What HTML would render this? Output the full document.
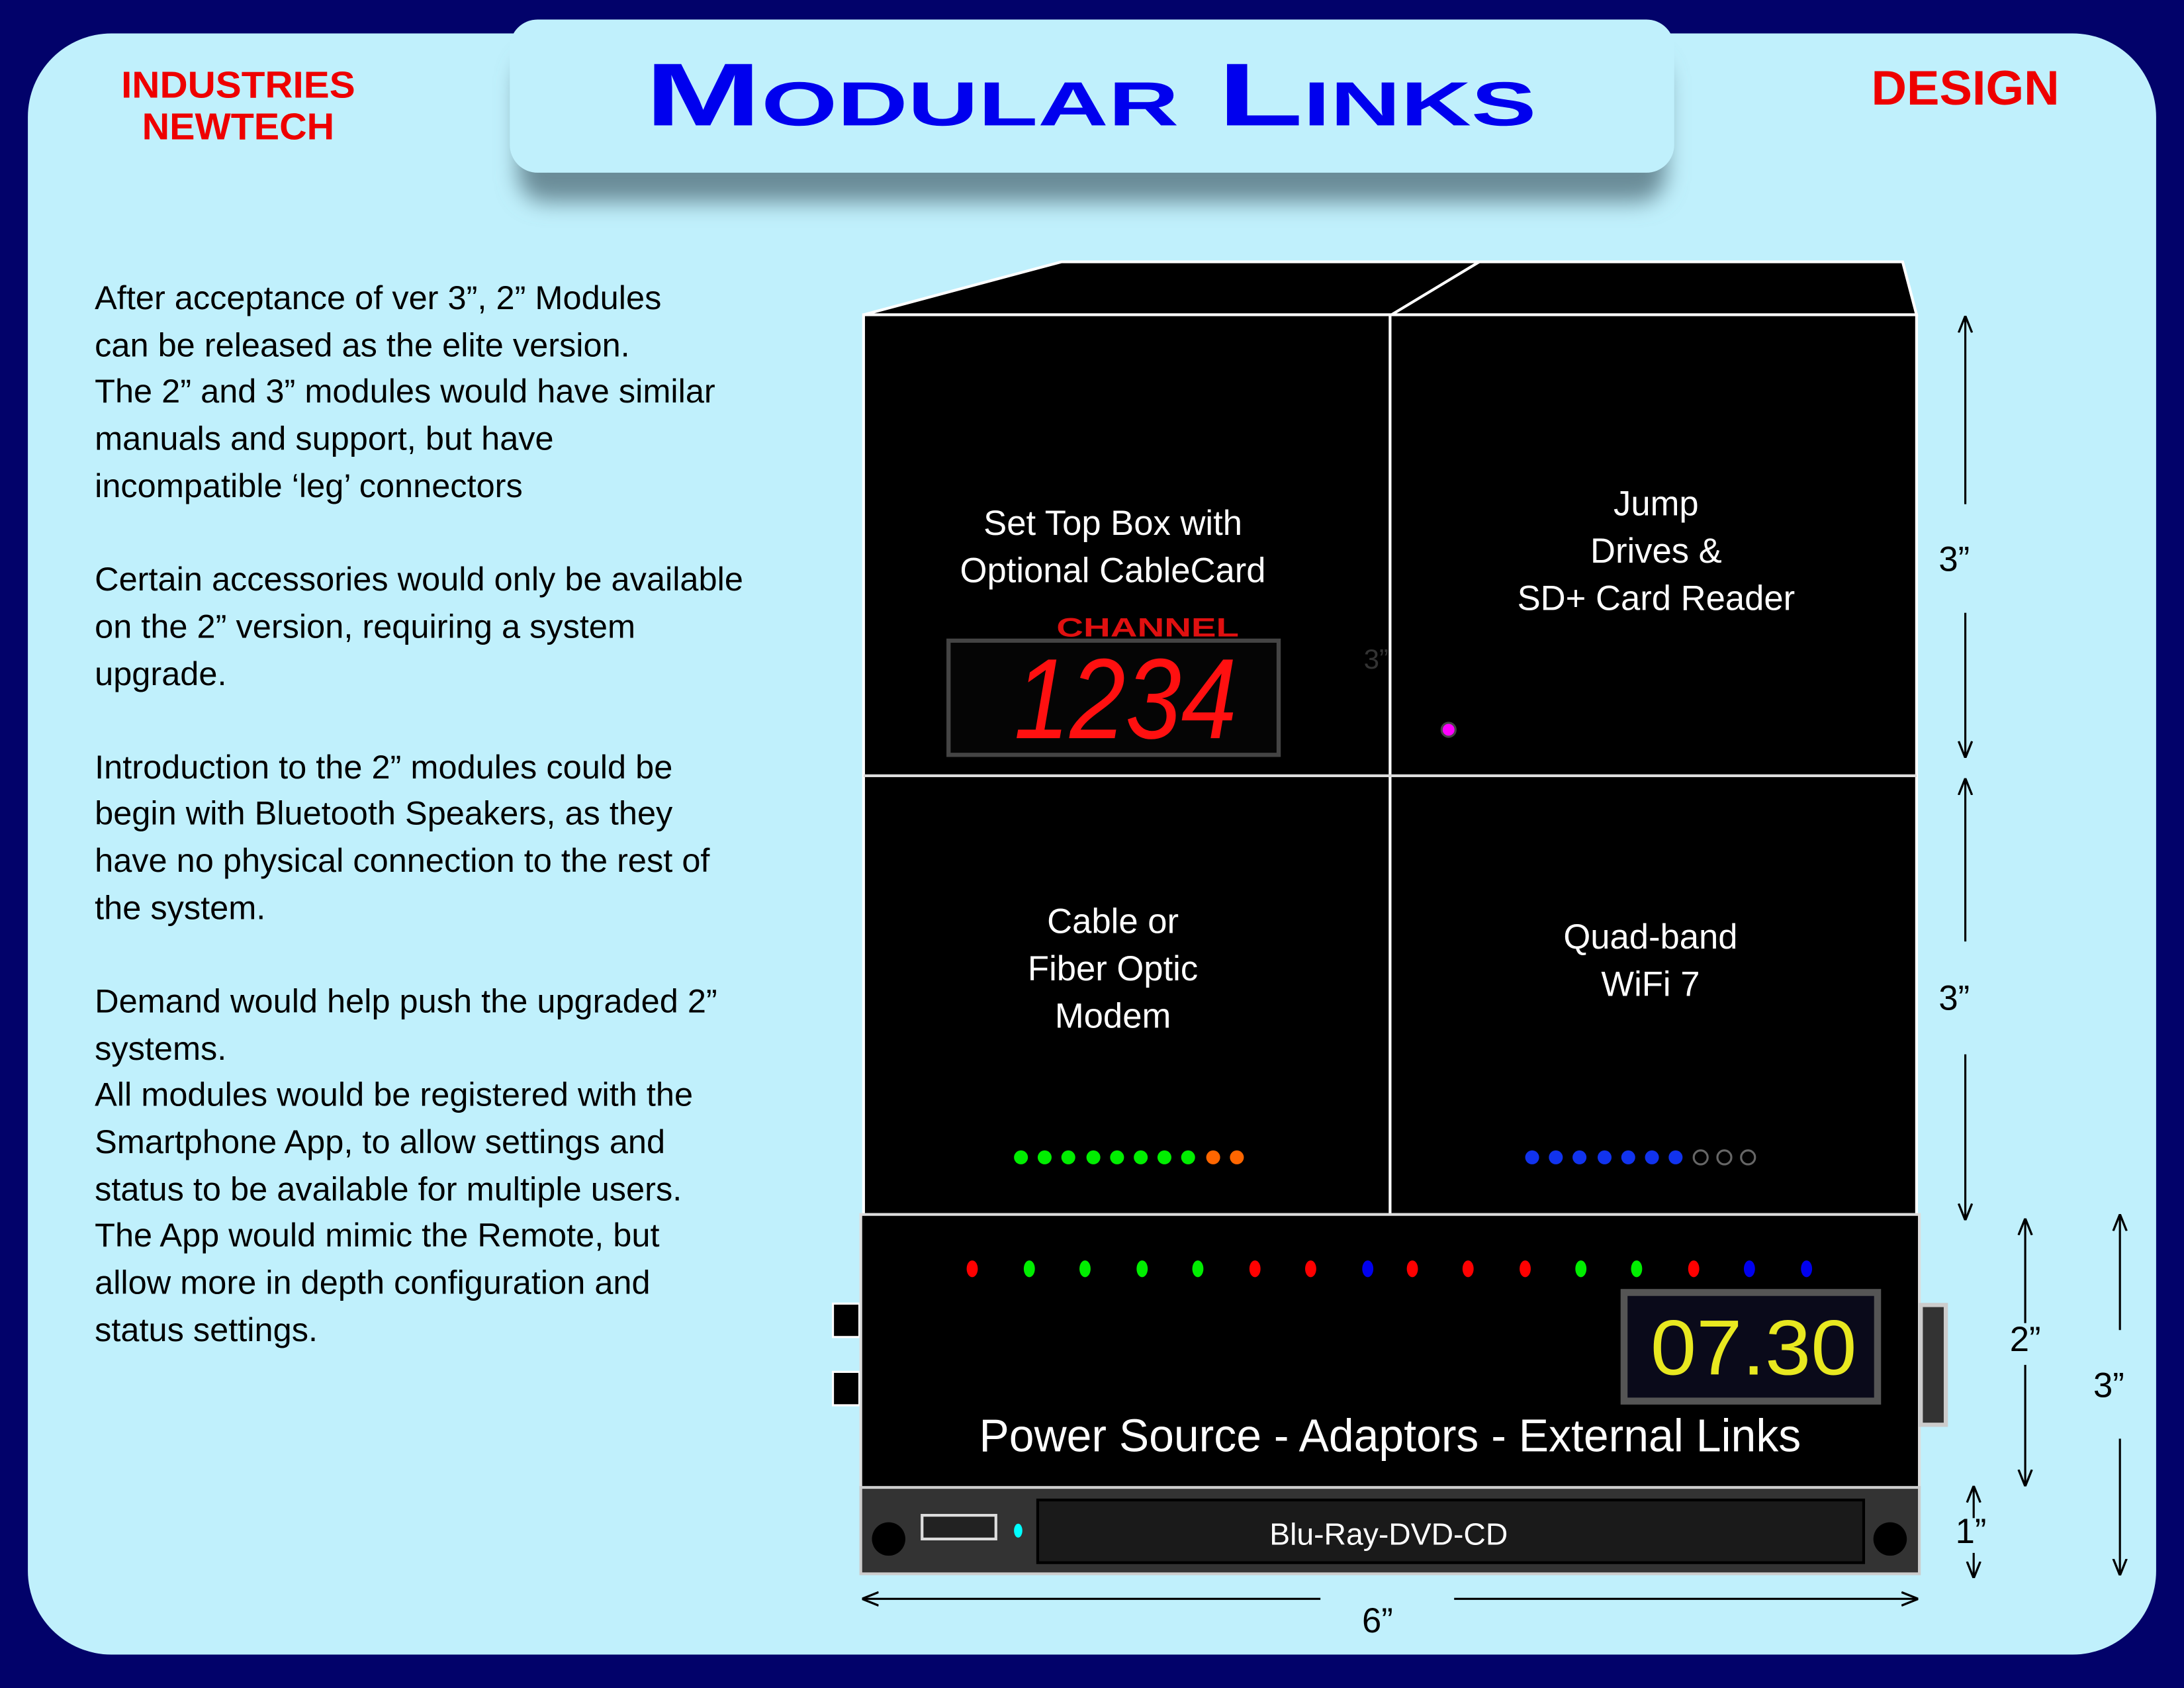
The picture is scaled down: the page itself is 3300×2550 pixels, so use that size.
<!DOCTYPE html>
<html><head><meta charset="utf-8"><style>
html,body{margin:0;padding:0;background:#02026a;}
svg{display:block;}
text{font-family:"Liberation Sans",sans-serif;}
</style></head><body>
<svg width="3300" height="2550" viewBox="0 0 1568 1212" preserveAspectRatio="none" xmlns="http://www.w3.org/2000/svg">
<defs>
<filter id="sh" x="-10%" y="-20%" width="120%" height="160%"><feGaussianBlur stdDeviation="8"/></filter>
<marker id="ah" viewBox="0 0 10 10" refX="9" refY="5" markerWidth="8" markerHeight="8" orient="auto-start-reverse"><path d="M0,1 L10,5 L0,9" fill="none" stroke="#000" stroke-width="1.3"/></marker>
</defs>
<rect width="1568" height="1212" fill="#02026a"/>
<rect x="20" y="24" width="1528" height="1164" rx="60" fill="#c0f0fc"/>
<rect x="372" y="40" width="824" height="105" rx="20" fill="#6b8c98" filter="url(#sh)"/>
<rect x="366" y="14" width="836" height="110" rx="20" fill="#c0f0fc"/>
<text x="783" y="90" text-anchor="middle" font-size="64" font-weight="bold" fill="#0000ee" textLength="640" lengthAdjust="spacingAndGlyphs" style="font-variant:small-caps">Modular Links</text>
<text x="171" y="70" text-anchor="middle" font-size="27" font-weight="bold" fill="#ee0000" textLength="168" lengthAdjust="spacingAndGlyphs">INDUSTRIES</text>
<text x="171" y="100" text-anchor="middle" font-size="27" font-weight="bold" fill="#ee0000" textLength="138" lengthAdjust="spacingAndGlyphs">NEWTECH</text>
<text x="1411" y="75" text-anchor="middle" font-size="35" font-weight="bold" fill="#ee0000" textLength="135" lengthAdjust="spacingAndGlyphs">DESIGN</text>
<g font-size="24" fill="#000">
<text x="68" y="222">After acceptance of ver 3”, 2” Modules</text>
<text x="68" y="256">can be released as the elite version.</text>
<text x="68" y="289">The 2” and 3” modules would have similar</text>
<text x="68" y="323">manuals and support, but have</text>
<text x="68" y="357">incompatible ‘leg’ connectors</text>
<text x="68" y="424">Certain accessories would only be available</text>
<text x="68" y="458">on the 2” version, requiring a system</text>
<text x="68" y="492">upgrade.</text>
<text x="68" y="559">Introduction to the 2” modules could be</text>
<text x="68" y="592">begin with Bluetooth Speakers, as they</text>
<text x="68" y="626">have no physical connection to the rest of</text>
<text x="68" y="660">the system.</text>
<text x="68" y="727">Demand would help push the upgraded 2”</text>
<text x="68" y="761">systems.</text>
<text x="68" y="794">All modules would be registered with the</text>
<text x="68" y="828">Smartphone App, to allow settings and</text>
<text x="68" y="862">status to be available for multiple users.</text>
<text x="68" y="895">The App would mimic the Remote, but</text>
<text x="68" y="929">allow more in depth configuration and</text>
<text x="68" y="963">status settings.</text>
</g>
<polygon points="620,226 762,188 1366,188 1376,226" fill="#000" stroke="#fff" stroke-width="2"/>
<line x1="1062" y1="188" x2="999" y2="226" stroke="#fff" stroke-width="2"/>
<rect x="620" y="226" width="756" height="646" fill="#000" stroke="#fff" stroke-width="2"/>
<line x1="998" y1="226" x2="998" y2="872" stroke="#fff" stroke-width="2"/>
<line x1="620" y1="557" x2="1376" y2="557" stroke="#ddd" stroke-width="2"/>
<g font-size="25" fill="#fff" text-anchor="middle">
<text x="799" y="384">Set Top Box with</text>
<text x="799" y="418">Optional CableCard</text>
<text x="1189" y="370">Jump</text>
<text x="1189" y="404">Drives &amp;</text>
<text x="1189" y="438">SD+ Card Reader</text>
<text x="799" y="670">Cable or</text>
<text x="799" y="704">Fiber Optic</text>
<text x="799" y="738">Modem</text>
<text x="1185" y="681">Quad-band</text>
<text x="1185" y="715">WiFi 7</text>
</g>
<text x="824" y="457" text-anchor="middle" font-size="19" font-weight="bold" fill="#e01010" textLength="131" lengthAdjust="spacingAndGlyphs">CHANNEL</text>
<rect x="681" y="460" width="237" height="82" fill="#050505" stroke="#444" stroke-width="3"/>
<text x="808" y="530" text-anchor="middle" font-size="82" fill="#ff1010" font-style="italic" textLength="160" lengthAdjust="spacingAndGlyphs">1234</text>
<text x="988" y="480" text-anchor="middle" font-size="20" fill="#333">3”</text>
<circle cx="1040" cy="524" r="5" fill="#ff00ff" stroke="#444" stroke-width="1.5"/>
<g>
<circle cx="733" cy="831" r="5" fill="#00ee00"/><circle cx="750" cy="831" r="5" fill="#00ee00"/><circle cx="767" cy="831" r="5" fill="#00ee00"/><circle cx="785" cy="831" r="5" fill="#00ee00"/><circle cx="802" cy="831" r="5" fill="#00ee00"/><circle cx="819" cy="831" r="5" fill="#00ee00"/><circle cx="836" cy="831" r="5" fill="#00ee00"/><circle cx="853" cy="831" r="5" fill="#00ee00"/><circle cx="871" cy="831" r="5" fill="#ff6600"/><circle cx="888" cy="831" r="5" fill="#ff6600"/>
<circle cx="1100" cy="831" r="5" fill="#1133ee"/><circle cx="1117" cy="831" r="5" fill="#1133ee"/><circle cx="1134" cy="831" r="5" fill="#1133ee"/><circle cx="1152" cy="831" r="5" fill="#1133ee"/><circle cx="1169" cy="831" r="5" fill="#1133ee"/><circle cx="1186" cy="831" r="5" fill="#1133ee"/><circle cx="1203" cy="831" r="5" fill="#1133ee"/><circle cx="1221" cy="831" r="5" fill="none" stroke="#666" stroke-width="1.5"/><circle cx="1238" cy="831" r="5" fill="none" stroke="#666" stroke-width="1.5"/><circle cx="1255" cy="831" r="5" fill="none" stroke="#666" stroke-width="1.5"/>
</g>
<rect x="598" y="936" width="19" height="24" fill="#000" stroke="#fff" stroke-width="1.5"/>
<rect x="598" y="985" width="19" height="24" fill="#000" stroke="#fff" stroke-width="1.5"/>
<rect x="618" y="872" width="760" height="196" fill="#000" stroke="#ddd" stroke-width="2"/>
<rect x="1379" y="937" width="18" height="86" fill="#333" stroke="#ccc" stroke-width="3"/>
<g>
<ellipse cx="698" cy="911" rx="4" ry="6" fill="#f00"/><ellipse cx="739" cy="911" rx="4" ry="6" fill="#0e0"/><ellipse cx="779" cy="911" rx="4" ry="6" fill="#0e0"/><ellipse cx="820" cy="911" rx="4" ry="6" fill="#0e0"/><ellipse cx="860" cy="911" rx="4" ry="6" fill="#0e0"/><ellipse cx="901" cy="911" rx="4" ry="6" fill="#f00"/><ellipse cx="941" cy="911" rx="4" ry="6" fill="#f00"/><ellipse cx="982" cy="911" rx="4" ry="6" fill="#00e"/><ellipse cx="1014" cy="911" rx="4" ry="6" fill="#f00"/><ellipse cx="1054" cy="911" rx="4" ry="6" fill="#f00"/><ellipse cx="1095" cy="911" rx="4" ry="6" fill="#f00"/><ellipse cx="1135" cy="911" rx="4" ry="6" fill="#0e0"/><ellipse cx="1175" cy="911" rx="4" ry="6" fill="#0e0"/><ellipse cx="1216" cy="911" rx="4" ry="6" fill="#f00"/><ellipse cx="1256" cy="911" rx="4" ry="6" fill="#00e"/><ellipse cx="1297" cy="911" rx="4" ry="6" fill="#00e"/>
</g>
<rect x="1166" y="928" width="182" height="78" fill="#0a0a1a" stroke="#555" stroke-width="5"/>
<text x="1259" y="987" text-anchor="middle" font-size="56" fill="#e8e820" textLength="148" lengthAdjust="spacingAndGlyphs">07.30</text>
<text x="998" y="1042" text-anchor="middle" font-size="33" fill="#fff" textLength="590" lengthAdjust="spacingAndGlyphs">Power Source - Adaptors - External Links</text>
<rect x="618" y="1068" width="760" height="62" fill="#333" stroke="#ccc" stroke-width="2"/>
<rect x="745" y="1077" width="593" height="45" fill="#1a1a1a" stroke="#000" stroke-width="2"/>
<text x="997" y="1109" text-anchor="middle" font-size="22" fill="#fff">Blu-Ray-DVD-CD</text>
<circle cx="638" cy="1105" r="12" fill="#000"/>
<circle cx="1357" cy="1105" r="12" fill="#000"/>
<rect x="662" y="1088" width="53" height="17" fill="#222" stroke="#ddd" stroke-width="2"/>
<ellipse cx="731" cy="1099" rx="3" ry="5" fill="#0ff"/>
<g stroke="#000" stroke-width="1.5" fill="none">
<line x1="1411" y1="362" x2="1411" y2="228" marker-end="url(#ah)"/>
<line x1="1411" y1="440" x2="1411" y2="543" marker-end="url(#ah)"/>
<line x1="1411" y1="676" x2="1411" y2="560" marker-end="url(#ah)"/>
<line x1="1411" y1="757" x2="1411" y2="875" marker-end="url(#ah)"/>
<line x1="1454" y1="950" x2="1454" y2="876" marker-end="url(#ah)"/>
<line x1="1454" y1="980" x2="1454" y2="1066" marker-end="url(#ah)"/>
<line x1="1522" y1="955" x2="1522" y2="873" marker-end="url(#ah)"/>
<line x1="1522" y1="1033" x2="1522" y2="1130" marker-end="url(#ah)"/>
<line x1="1417" y1="1090" x2="1417" y2="1068" marker-end="url(#ah)"/>
<line x1="1417" y1="1115" x2="1417" y2="1132" marker-end="url(#ah)"/>
<line x1="948" y1="1148" x2="620" y2="1148" marker-end="url(#ah)"/>
<line x1="1044" y1="1148" x2="1376" y2="1148" marker-end="url(#ah)"/>
</g>
<g font-size="25" fill="#000" text-anchor="middle">
<text x="1403" y="410">3”</text>
<text x="1403" y="725">3”</text>
<text x="1454" y="970">2”</text>
<text x="1514" y="1003">3”</text>
<text x="1415" y="1108">1”</text>
<text x="989" y="1172">6”</text>
</g>
</svg>
</body></html>
